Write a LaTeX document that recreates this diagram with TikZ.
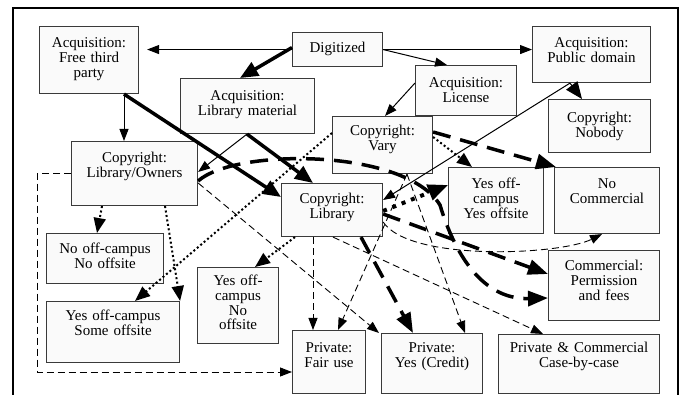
\documentclass[tikz,border=0pt]{standalone}
\usepackage{fontspec}
\setmainfont{Liberation Serif}
\usetikzlibrary{arrows.meta}
\definecolor{boxfill}{HTML}{FAFAFA}
\definecolor{boxline}{HTML}{3A3A3A}
\begin{document}
\begin{tikzpicture}[x=1pt,y=-1pt,
  box/.style={draw=boxline, line width=1.1pt, fill=boxfill, inner sep=0pt, align=center,
    anchor=north west, font=\fontsize{15}{14.8}\selectfont},
  dims/.style n args={3}{text width=#1pt, text height=#2pt, text depth=#3pt},
  thinsolid/.style={line width=1pt, -{Triangle[length=12pt,width=9pt]}},
  thicksolid/.style={line width=3.5pt, -{Triangle[length=18pt,width=15pt]}},
  thindash/.style={line width=0.9pt, dash pattern=on 7pt off 4pt, -{Triangle[length=12pt,width=9pt]}},
  thickdash/.style={line width=3.5pt, dash pattern=on 18pt off 10pt, -{Triangle[length=20pt,width=15pt]}},
  dotline/.style={line width=2pt, dash pattern=on 2pt off 2.5pt, -{Triangle[length=15pt,width=12pt]}},
  bigdot/.style={line width=4pt, dash pattern=on 4pt off 6pt, -{Triangle[length=20pt,width=16pt]}},
  frame/.style={line width=2pt}
]
\useasboundingbox (0,0) rectangle (683,395);
\draw[frame] (13,395) -- (13,8) -- (678,8) -- (678,395);

% boxes
\node[box, dims={99}{21}{46}] (ftp) at (39,26) {Acquisition:\\Free third\\party};
\node[box, dims={90}{20}{14}] (dig) at (292,32) {Digitized};
\node[box, dims={134}{22}{33}] (alm) at (180,78) {Acquisition:\\Library material};
\node[box, dims={101}{22}{28}] (alic) at (415,65) {Acquisition:\\License};
\node[box, dims={118}{21}{35}] (apd) at (532,26) {Acquisition:\\Public domain};
\node[box, dims={102}{23}{30}] (cno) at (548,99) {Copyright:\\Nobody};
\node[box, dims={100}{19}{38}] (cvary) at (332,116) {Copyright:\\Vary};
\node[box, dims={126}{21}{43}] (clo) at (71,141) {Copyright:\\Library/Owners};
\node[box, dims={101}{20}{33}] (clib) at (281,183) {Copyright:\\Library};
\node[box, dims={95}{21}{45}] (yy) at (448,167) {Yes off-\\campus\\Yes offsite};
\node[box, dims={105}{21}{45}] (nocom) at (554,167) {No\\Commercial};
\node[box, dims={117}{20}{30}] (nono) at (46,233) {No off-campus\\No offsite};
\node[box, dims={133}{19}{42}] (yso) at (46,301) {Yes off-campus\\Some offsite};
\node[box, dims={81}{18}{58}] (yno) at (197,267) {Yes off-\\campus\\No\\offsite};
\node[box, dims={73}{22}{41}] (pfair) at (292,330) {Private:\\Fair use};
\node[box, dims={101}{19}{41}] (pcredit) at (381,333) {Private:\\Yes (Credit)};
\node[box, dims={161}{18}{41}] (pcase) at (498,334) {Private \& Commercial\\Case-by-case};
\node[box, dims={111}{20}{50}] (cperm) at (548,250) {Commercial:\\Permission\\and fees};

% helper coordinates
\coordinate (ftpb) at ([xshift=85pt]ftp.south west);
\coordinate (almb) at ([xshift=67pt]alm.south west);
\coordinate (apdb) at ([xshift=38pt]apd.south west);
\coordinate (cvb) at ([xshift=75pt]cvary.south west);

% solid connectors
\draw[thinsolid, shorten >=8pt] (dig.west) -- (ftp.east |- dig.west);
\draw[thinsolid] (dig.east) -- (apd.west |- dig.east);
\draw[thinsolid] (dig.east) -- ([xshift=32pt]alic.north west);
\draw[thicksolid] ([yshift=2pt]dig.west) -- ([xshift=60pt]alm.north west);
\draw[thinsolid] (ftpb) -- (ftpb |- clo.north);
\draw[thicksolid] (ftpb) -- ([yshift=-14pt]clib.north west);
\draw[thinsolid] (almb) -- ([yshift=-31pt]clo.north east);
\draw[thicksolid] (almb) -- ([xshift=32pt]clib.north west);
\draw[thinsolid] ([yshift=-18pt]alic.north west) -- ([xshift=53pt]cvary.north west);
\draw[line width=1pt, -{Triangle[length=17pt,width=14pt]}] (apdb) -- ([xshift=34pt]cno.north west);
\draw[thinsolid] (apdb) -- ([yshift=-17pt]clib.north east);

% dotted connectors
\draw[dotline] ([yshift=-21pt]cvary.north east) -- ([xshift=24pt]yy.north west);
\draw[dotline] ([yshift=-17pt]cvary.north west) -- ([xshift=89pt]yso.north west);
\draw[dotline] ([xshift=14pt]clib.south west) -- ([xshift=58pt]yno.north west);
\draw[dotline] ([xshift=31pt]clo.south west) -- ([xshift=51pt]nono.north west);
\draw[dotline] ([xshift=94pt]clo.south west) -- (yso.north east);
\draw[bigdot] ([yshift=-28pt]clib.north east) -- ([yshift=-18pt]yy.north west);

% thick dashed connectors
\draw[thickdash] ([yshift=-16pt]cvary.north east) -- ([xshift=2pt]nocom.north west);
\draw[thickdash] ([yshift=-40pt]clo.north east) .. controls (235,148) and (405,148) .. (440,205)
  .. controls (452,245) and (478,300) .. ([yshift=-48pt]cperm.north west);
\draw[thickdash] ([yshift=-31pt]clib.north east) -- ([yshift=-24pt]cperm.north west);
\draw[thickdash] ([xshift=80pt]clib.south west) -- ([xshift=32pt]pcredit.north west);

% thin dashed connectors
\draw[thindash] ([yshift=-39pt]clib.north east) .. controls (410,262) and (560,255) .. ([xshift=48pt]nocom.south west);
\draw[thindash] ([xshift=32pt]clib.south west) -- ([xshift=21pt]pfair.north west);
\draw[thindash] ([xshift=52pt]clib.south west) -- ([xshift=45pt]pcase.north west);
\draw[thindash] ([yshift=-42pt]clo.north east) -- ([xshift=-2pt]pcredit.north west);
\draw[thindash] (clo.west) -- ++(-34,0) |- ([yshift=-42pt]pfair.north west);
\draw[thindash] (cvb) -- ([xshift=46pt]pfair.north west);
\draw[thindash] (cvb) -- ([xshift=84pt]pcredit.north west);
\end{tikzpicture}
\end{document}
